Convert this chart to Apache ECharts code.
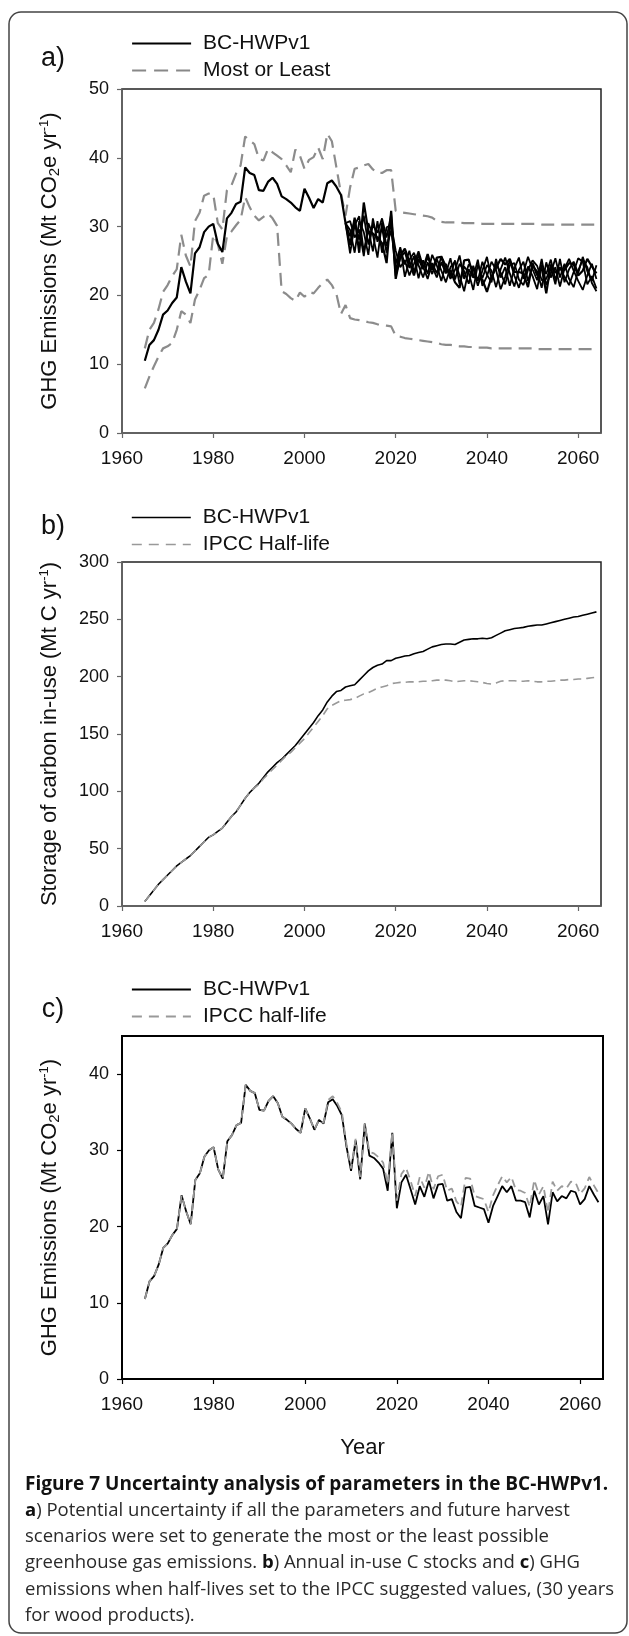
<!DOCTYPE html>
<html>
<head>
<meta charset="utf-8">
<title>Figure 7</title>
<script src="https://cdn.jsdelivr.net/npm/echarts@6.0.0/dist/echarts.min.js"></script>
<style>
  html, body { margin: 0; padding: 0; background: #fff; }
  #main { width: 629px; height: 1636px; }
</style>
</head>
<body>
<div id="main"></div>
<script>
// years 1965 - 2064
const firstYear = 1965;
const scenFirstYear = 2009;
const xTicks = [1960, 1980, 2000, 2020, 2040, 2060];
const yTicksA = [0, 10, 20, 30, 40, 50];
const yTicksB = [0, 50, 100, 150, 200, 250, 300];
const yTicksC = [0, 10, 20, 30, 40];

// a) BC-HWPv1 base run (same as panel c)
const emisBase = [
  10.5, 12.8, 13.5, 15.0, 17.2, 17.8, 18.9, 19.7, 24.1, 22.0,
  20.3, 26.1, 27.0, 29.2, 30.0, 30.4, 27.5, 26.3, 31.2, 32.0,
  33.3, 33.6, 38.6, 37.8, 37.5, 35.3, 35.2, 36.5, 37.1, 36.2,
  34.4, 34.0, 33.5, 32.8, 32.3, 35.5, 34.2, 32.7, 34.0, 33.5,
  36.3, 36.7, 35.8, 34.6, 30.5, 27.3, 31.3, 26.2, 33.5, 29.3,
  29.0, 28.4, 27.6, 24.7, 32.3, 22.4, 25.8, 26.8, 24.9, 22.9,
  25.3, 23.9, 26.0, 23.7, 25.5, 25.6, 23.4, 23.6, 21.9, 21.1,
  25.1, 25.2, 22.7, 22.5, 22.3, 20.5, 22.7, 24.0, 25.3, 24.5,
  25.3, 23.4, 23.4, 23.2, 21.2, 24.7, 22.9, 24.0, 20.3, 24.5,
  23.3, 24.0, 23.7, 24.7, 24.5, 22.9, 23.6, 25.3, 24.2, 23.2
];
// a) other harvest scenarios, 2009 - 2064
const scen1 = [
  30.5, 28.6, 30.9, 28.1, 31.6, 27.4, 30.2, 29.1, 31.2, 28.4, 31.8,
  23.5, 26.8, 24.5, 26.5, 23.3, 25.9, 23.8, 25.5, 24.2, 22.6,
  24.8, 23.2, 25.4, 22.3, 24.6, 23.5, 21.7, 24.3, 22.1, 24.9,
  23.0, 21.9, 25.3, 22.6, 24.1, 21.4, 23.9, 25.5, 22.4, 24.2,
  22.8, 20.9, 24.5, 23.1, 25.2, 22.3, 24.0, 22.7, 21.5, 23.4,
  25.4, 24.9, 21.6, 22.8, 21.0
];
const scen2 = [
  30.5, 29.5, 26.2, 30.8, 29.2, 25.9, 31.2, 27.8, 29.8, 26.2, 30.9,
  22.8, 25.4, 26.3, 24.0, 25.7, 22.5, 25.1, 23.1, 25.9, 24.4,
  22.1, 24.6, 22.8, 25.1, 21.6, 24.2, 23.3, 20.8, 24.5, 22.5,
  24.4, 23.6, 21.2, 23.8, 25.5, 23.2, 21.3, 23.7, 24.9, 22.1,
  24.3, 23.5, 21.1, 24.8, 22.6, 24.1, 21.3, 23.9, 25.3, 23.6,
  22.1, 20.8, 22.9, 24.6, 22.4
];
const scen3 = [
  30.5, 30.8, 28.4, 29.6, 25.7, 30.5, 28.8, 25.5, 30.6, 27.2, 29.4,
  24.6, 27.0, 22.7, 25.2, 26.2, 24.4, 22.6, 24.8, 23.1, 25.3,
  23.6, 21.9, 24.1, 24.9, 22.9, 20.6, 23.8, 22.6, 25.2, 21.4,
  22.8, 24.9, 23.7, 20.9, 22.7, 25.1, 22.9, 21.1, 23.3, 25.6,
  23.8, 22.2, 25.3, 21.5, 23.2, 25.4, 22.6, 24.6, 22.4, 21.2,
  23.6, 25.2, 24.1, 21.8, 20.6
];
const scen4 = [
  30.5, 26.1, 30.2, 31.5, 26.3, 29.6, 26.4, 30.8, 26.2, 29.9, 30.2,
  26.5, 24.1, 25.1, 22.9, 24.6, 26.4, 24.2, 22.4, 24.7, 23.2,
  25.7, 24.3, 22.4, 23.7, 25.8, 22.4, 24.5, 23.9, 21.4, 23.6,
  25.6, 22.4, 24.6, 23.3, 21.6, 24.4, 24.7, 22.3, 21.5, 23.7,
  25.1, 24.3, 22.2, 22.4, 24.1, 21.6, 25.3, 21.9, 23.8, 24.9,
  23.2, 25.6, 23.5, 22.1, 24.4
];
const emisMost = [
  12.3, 15.0, 16.0, 18.0, 20.5, 21.5, 22.8, 23.8, 28.8, 25.8,
  24.2, 30.8, 32.0, 34.5, 34.8, 34.7, 30.5, 29.6, 35.3, 36.0,
  37.7, 38.9, 43.1, 42.5, 42.0, 39.9, 39.6, 41.3, 40.8, 40.3,
  39.8, 38.9, 37.9, 41.2, 40.3, 38.4, 39.7, 40.1, 41.5, 39.8,
  43.5, 42.4, 38.6, 34.8, 31.6, 35.7, 38.4, 38.6, 38.9, 39.1,
  38.3, 37.8, 37.8, 38.2, 38.2, 32.3, 32.1, 32.0, 31.9, 31.8,
  31.7, 31.6, 31.5, 31.3, 30.8, 30.7, 30.6, 30.6, 30.6, 30.6,
  30.5, 30.5, 30.5, 30.5, 30.4, 30.4, 30.4, 30.4, 30.4, 30.4,
  30.4, 30.4, 30.4, 30.4, 30.4, 30.4, 30.4, 30.3, 30.3, 30.3,
  30.3, 30.3, 30.3, 30.3, 30.3, 30.3, 30.3, 30.3, 30.3, 30.3
];
const emisLeast = [
  6.5, 8.2, 9.7, 11.1, 12.3, 12.6, 13.1, 15.0, 17.7, 17.2,
  16.0, 19.4, 20.8, 22.5, 23.0, 28.8, 27.5, 24.6, 28.6, 29.3,
  30.2, 31.0, 34.3, 32.8, 31.6, 30.9, 31.4, 31.9, 31.2, 30.1,
  20.6, 20.2, 19.6, 19.2, 20.4, 19.8, 20.5, 20.3, 21.1, 21.8,
  22.3, 21.5, 20.2, 17.3, 18.6, 16.7, 16.5, 16.4, 16.3, 16.1,
  16.0, 15.8, 15.7, 15.6, 15.5, 14.1, 14.0, 13.8, 13.7, 13.6,
  13.5, 13.4, 13.3, 13.2, 13.1, 12.9, 12.8, 12.8, 12.7, 12.6,
  12.6, 12.5, 12.5, 12.4, 12.4, 12.4, 12.3, 12.3, 12.3, 12.3,
  12.3, 12.3, 12.3, 12.3, 12.3, 12.3, 12.2, 12.2, 12.2, 12.2,
  12.2, 12.2, 12.2, 12.2, 12.2, 12.2, 12.2, 12.2, 12.2, 12.2
];

// b) carbon stored in use
const storeBase = [
  4, 9, 14, 19, 23, 27, 31, 35, 38, 41,
  44, 48, 52, 56, 60, 62, 65, 68, 73, 78,
  82, 88, 94, 99, 103, 107, 112, 117, 121, 125,
  128, 132, 136, 140, 145, 150, 155, 160, 166, 171,
  178, 183, 187, 188, 191, 192, 193, 197, 201, 205,
  208, 210, 211, 214, 214, 216, 217, 218, 218.5, 220,
  221, 222, 224, 226, 227, 228, 228.5, 228.5, 228, 230,
  232, 232.5, 233, 233, 233.5, 233, 234, 236, 238, 240,
  241, 242, 242.5, 243, 244, 244.5, 245, 245, 246, 247,
  248, 249, 250, 251, 252, 252.5, 253.5, 254.5, 255.5, 256.5
];
const storeIpcc = [
  4, 9, 14, 19, 23, 27, 31, 35, 38, 41,
  44, 48, 52, 56, 60, 62, 65, 68, 73, 78,
  82, 88, 94, 99, 103, 106, 111, 115, 119, 123,
  127, 131, 134, 138, 142, 146, 151, 156, 161, 166,
  172, 175, 177, 179, 179.5, 180, 181, 183, 185, 186,
  188, 190, 191, 192, 194, 194.5, 195, 195, 195.5, 195.5,
  195.5, 196, 196, 196.5, 197, 197, 197, 196.5, 195.5, 196,
  196.5, 196.5, 196, 195.5, 195, 194, 193.5, 194.5, 196, 196.5,
  196.5, 196.5, 196, 196, 196.5, 196, 195.5, 195.5, 196, 196,
  196.5, 197, 197, 197.5, 197.5, 198, 198, 198.5, 199, 199.5
];

// c) emissions with IPCC half-lives
const emisIpcc = [
  10.5, 12.8, 13.5, 15.0, 17.2, 17.8, 18.9, 19.7, 24.1, 22.0,
  20.3, 26.1, 27.0, 29.2, 30.0, 30.4, 27.5, 26.3, 31.2, 32.0,
  33.3, 33.6, 38.6, 37.8, 37.5, 35.3, 35.2, 36.5, 37.1, 36.2,
  34.4, 34.0, 33.5, 32.8, 32.3, 35.5, 34.2, 32.7, 34.0, 33.6,
  36.6, 37.1, 36.2, 35.0, 30.8, 27.6, 31.5, 26.5, 33.5, 29.8,
  29.6, 29.1, 28.4, 25.6, 32.4, 23.4, 26.9, 27.7, 26.0, 24.0,
  26.5, 25.1, 27.2, 24.9, 26.6, 26.8, 24.7, 25.0, 23.3, 22.6,
  26.4, 26.3, 24.0, 23.8, 23.6, 21.9, 24.1, 25.4, 26.6, 25.8,
  26.5, 24.8, 24.7, 24.4, 22.6, 26.1, 24.2, 25.3, 21.8, 25.9,
  24.7, 25.3, 25.0, 25.9, 25.8, 24.3, 25.0, 26.5, 25.4, 24.4
];

function pairs(start, vals) {
  return vals.map((v, i) => [start + i, v]);
}

const chart = echarts.init(document.getElementById('main'));
const font = '"Liberation Sans", Arial, sans-serif';
const ink = '#111';

function xAxisFor(idx, dark, withName) {
  const col = dark ? '#000' : '#666';
  const ax = {
    type: 'value', gridIndex: idx, min: 1960, max: 2065,
    axisLine: { lineStyle: { color: col, width: dark ? 2 : 1.5 } },
    axisTick: { inside: false, length: 5, customValues: xTicks, lineStyle: { color: col, width: 1.2 } },
    axisLabel: { customValues: xTicks, margin: 16, color: ink, fontSize: 19, fontFamily: font,
      formatter: v => String(v) },
    splitLine: { show: false }
  };
  if (withName) {
    ax.name = 'Year';
    ax.nameLocation = 'middle';
    ax.nameGap = 58;
    ax.nameTextStyle = { color: ink, fontSize: 22, fontFamily: font };
  }
  return ax;
}

function yAxisFor(idx, max, ticks, name, dark) {
  const col = dark ? '#000' : '#666';
  return {
    type: 'value', gridIndex: idx, min: 0, max: max,
    axisLine: { show: true, lineStyle: { color: col, width: dark ? 2 : 1.5 } },
    axisTick: { show: true, inside: false, length: 5, customValues: ticks, lineStyle: { color: col, width: 1.2 } },
    axisLabel: { customValues: ticks, margin: 13, color: ink, fontSize: 18, fontFamily: font },
    splitLine: { show: false },
    name: name,
    nameLocation: 'middle',
    nameGap: 60,
    nameTextStyle: {
      color: ink, fontSize: 22, fontFamily: font,
      rich: {
        sub: { fontSize: 15, fontFamily: font, color: ink, padding: [9, 0, 0, 0] },
        sup: { fontSize: 13, fontFamily: font, color: ink, padding: [0, 0, 11, 0] }
      }
    }
  };
}

function line(name, x, y, data, color, width, dash, z) {
  return {
    type: 'line', name: name, xAxisIndex: x, yAxisIndex: y, data: data,
    symbol: 'none', showSymbol: false, silent: true, animation: false, z: z || 2,
    itemStyle: { color: color },
    lineStyle: { color: color, width: width, type: dash || 'solid' }
  };
}

function legendFor(top, items) {
  return {
    orient: 'vertical', left: 126, top: top, itemWidth: 59, itemHeight: 12, itemGap: 6,
    selectedMode: false,
    itemStyle: { opacity: 0 },
    textStyle: { color: ink, fontSize: 21, fontFamily: font, padding: [0, 0, 0, 7] },
    data: items
  };
}

const emisName = 'GHG Emissions (Mt CO{sub|2}e yr{sup|-1})';
const storeName = 'Storage of carbon in-use (Mt C yr{sup|-1})';

const grayDashA = [13, 7];
const grayDash = [8, 5];

chart.setOption({
  animation: false,
  backgroundColor: '#fff',
  grid: [
    { left: 122, top: 89, width: 479, height: 344, show: true, borderColor: '#222', borderWidth: 1.5 },
    { left: 122, top: 562, width: 479, height: 344, show: true, borderColor: '#222', borderWidth: 1.5 },
    { left: 122, top: 1036, width: 481, height: 343, show: true, borderColor: '#000', borderWidth: 2 }
  ],
  xAxis: [xAxisFor(0, false, false), xAxisFor(1, false, false), xAxisFor(2, true, true)],
  yAxis: [
    yAxisFor(0, 50, yTicksA, emisName, false),
    yAxisFor(1, 300, yTicksB, storeName, false),
    yAxisFor(2, 45, yTicksC, emisName, true)
  ],
  legend: [
    legendFor(28, [
      { name: 'BC-HWPv1', lineStyle: { color: '#000', width: 2.2, type: 'solid' } },
      { name: 'Most or Least', lineStyle: { color: '#888', width: 2.2, type: [14, 8] } }
    ]),
    legendFor(502, [
      { name: 'BC-HWPv1', lineStyle: { color: '#000', width: 1.6, type: 'solid' } },
      { name: 'IPCC Half-life', lineStyle: { color: '#999', width: 1.6, type: [10, 7] } }
    ]),
    legendFor(974, [
      { name: 'BC-HWPv1', lineStyle: { color: '#000', width: 1.8, type: 'solid' } },
      { name: 'IPCC half-life', lineStyle: { color: '#999', width: 1.8, type: [10, 7] } }
    ])
  ],
  series: [
    line('Most or Least', 0, 0, pairs(firstYear, emisMost), '#8c8c8c', 2.2, grayDashA, 2),
    line('Most or Least', 0, 0, pairs(firstYear, emisLeast), '#8c8c8c', 2.2, grayDashA, 2),
    line('BC-HWPv1', 0, 0, pairs(scenFirstYear, scen1), '#000', 1.8, null, 3),
    line('BC-HWPv1', 0, 0, pairs(scenFirstYear, scen2), '#000', 1.8, null, 3),
    line('BC-HWPv1', 0, 0, pairs(scenFirstYear, scen3), '#000', 1.8, null, 3),
    line('BC-HWPv1', 0, 0, pairs(scenFirstYear, scen4), '#000', 1.8, null, 3),
    line('BC-HWPv1', 0, 0, pairs(firstYear, emisBase), '#000', 2.2, null, 4),

    line('BC-HWPv1', 1, 1, pairs(firstYear, storeBase), '#000', 1.6, null, 3),
    line('IPCC Half-life', 1, 1, pairs(firstYear, storeIpcc), '#999', 1.6, grayDash, 4),

    line('BC-HWPv1', 2, 2, pairs(firstYear, emisBase), '#000', 1.8, null, 3),
    line('IPCC half-life', 2, 2, pairs(firstYear, emisIpcc), '#999', 1.8, grayDash, 4)
  ],
  graphic: [
    {
      type: 'rect', silent: true, z: 0,
      shape: { x: 9, y: 12, width: 618, height: 1621, r: 12 },
      style: { fill: 'none', stroke: '#444', lineWidth: 1.5 }
    },
    { type: 'text', x: 53, y: 59, style: { text: 'a)', font: '27px ' + font, fill: ink, align: 'center', verticalAlign: 'middle' } },
    { type: 'text', x: 53, y: 527, style: { text: 'b)', font: '27px ' + font, fill: ink, align: 'center', verticalAlign: 'middle' } },
    { type: 'text', x: 53, y: 1010, style: { text: 'c)', font: '27px ' + font, fill: ink, align: 'center', verticalAlign: 'middle' } },
    {
      type: 'text', x: 25, y: 1471,
      style: {
        text: '{t|Figure 7 Uncertainty analysis of parameters in the BC-HWPv1.}\n' +
          '{b|a}) Potential uncertainty if all the parameters and future harvest\n' +
          'scenarios were set to generate the most or the least possible\n' +
          'greenhouse gas emissions. {b|b}) Annual in-use C stocks and {b|c}) GHG\n' +
          'emissions when half-lives set to the IPCC suggested values, (30 years\n' +
          'for wood products).',
        font: '18.5px "Open Sans", sans-serif',
        fill: '#2a2a2a',
        lineHeight: 26.3,
        verticalAlign: 'top',
        rich: {
          t: { fontFamily: '"Open Sans", sans-serif', fontWeight: 'bold', fontSize: 19, fill: '#111', lineHeight: 26.3 },
          b: { fontFamily: '"Open Sans", sans-serif', fontWeight: 'bold', fontSize: 18.5, fill: '#111', lineHeight: 26.3 }
        }
      }
    }
  ]
});
</script>
</body>
</html>
